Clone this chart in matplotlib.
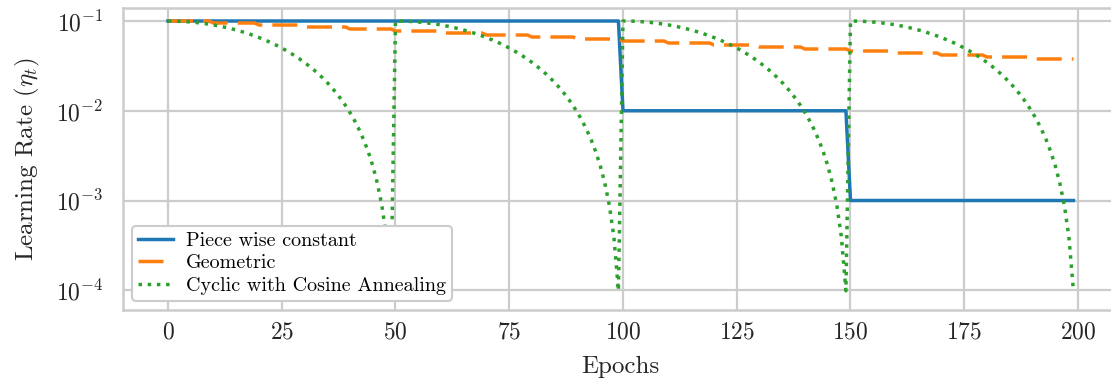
import matplotlib
matplotlib.use('Agg')
import matplotlib.pyplot as plt
import numpy as np

# piece wise constant schedule: (first epoch, lr)
pw_starts = [0, 100, 150]
pw_values = [1e-1, 1e-2, 1e-3]

# geometric schedule, one value per block of 10 epochs
geo_block = 10
geo_values = [0.1, 0.095, 0.09025, 0.08574, 0.08145, 0.07738, 0.07351,
              0.06983, 0.06634, 0.06302, 0.05987, 0.05688, 0.05404,
              0.05133, 0.04877, 0.04633, 0.04401, 0.04181, 0.03972, 0.03774]

# one cycle (50 epochs) of the cosine annealing schedule, repeated 4 times
cos_cycle = [0.1, 0.0999, 0.09961, 0.09911, 0.09843, 0.09755, 0.09649,
             0.09524, 0.09382, 0.09222, 0.09045, 0.08853, 0.08645, 0.08423,
             0.08187, 0.07939, 0.07679, 0.07409, 0.07129, 0.06841, 0.06545,
             0.06243, 0.05937, 0.05627, 0.05314, 0.05, 0.04686, 0.04373,
             0.04063, 0.03757, 0.03455, 0.03159, 0.02871, 0.02591, 0.02321,
             0.02061, 0.01813, 0.01577, 0.01355, 0.01147, 0.00955, 0.00778,
             0.00618, 0.00476, 0.00351, 0.00245, 0.00157, 0.000886,
             0.000394, 0.0000987]
n_cycles = 4

n_epochs = 200
xticks = [0, 25, 50, 75, 100, 125, 150, 175, 200]

plt.rcParams['font.family'] = 'serif'
plt.rcParams['font.serif'] = ['cmr10']
plt.rcParams['mathtext.fontset'] = 'cm'
plt.rcParams['axes.formatter.use_mathtext'] = True
plt.rcParams['axes.unicode_minus'] = False


def main():
    epochs = np.arange(n_epochs)
    pw_len = np.diff(pw_starts + [n_epochs])
    piecewise = np.repeat(pw_values, pw_len)
    geometric = np.repeat(geo_values, geo_block)
    cyclic = np.tile(cos_cycle, n_cycles)

    f = plt.figure(figsize=(11.11, 3.79), dpi=100)
    ax = f.add_axes([122.7 / 1111, 69 / 379, 996 / 1111, 302 / 379])

    ax.plot(epochs, piecewise, color='#1f77b4', lw=2.5, label='Piece wise constant')
    ax.plot(epochs, geometric, color='#ff7f0e', lw=2.5, ls=(0, (7.2, 2.9)),
            label='Geometric')
    ax.plot(epochs, cyclic, color='#2ca02c', lw=2.5, ls=':',
            label='Cyclic with Cosine Annealing')

    ax.set_yscale('log')
    ax.set_xlim(-9.95, 208.95)
    ax.set_ylim(10 ** -4.22, 10 ** -0.855)
    ax.set_xticks(xticks)
    ax.minorticks_off()

    ax.set_facecolor('white')
    ax.grid(True, color='.8', lw=1.6)
    ax.set_axisbelow(True)
    for s in ax.spines.values():
        s.set_color('.8')
        s.set_linewidth(1.8)
    ax.tick_params(axis='both', length=0, labelsize=17, colors='.15')
    ax.tick_params(axis='x', pad=8)
    ax.tick_params(axis='y', pad=14)

    ax.set_xlabel('Epochs', fontsize=18, color='.15', labelpad=9)
    ax.set_ylabel(r'Learning Rate ($\eta_t$)', fontsize=18, color='.15', labelpad=10)

    leg = ax.legend(loc='lower left', fontsize=14.5, frameon=True, fancybox=True,
                    handlelength=1.75, handletextpad=0.65, borderaxespad=0.45,
                    borderpad=0.3, labelspacing=0.22)
    leg.get_frame().set_edgecolor('.8')
    leg.get_frame().set_linewidth(1.5)
    leg.get_frame().set_alpha(1)

    plt.savefig('out.png', dpi=100)


if __name__ == '__main__':
    main()
